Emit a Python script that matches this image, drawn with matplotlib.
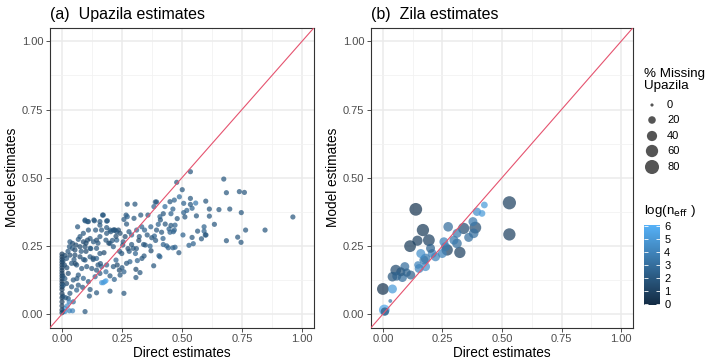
import numpy as np
import matplotlib
matplotlib.use("Agg")
import matplotlib.pyplot as plt
from matplotlib.colors import LinearSegmentedColormap, Normalize

plt.rcParams['font.family'] = ['Liberation Sans', 'DejaVu Sans']

# ---- panel (a): upazila estimates (direct, model, log n_eff) ----
upa_direct = [
    0.962, 0.846, 0.765, 0.746, 0.732, 0.747, 0.739, 0.760, 0.685, 0.674,
    0.699, 0.685, 0.654, 0.635, 0.614, 0.614, 0.599, 0.592, 0.592, 0.597,
    0.581, 0.565, 0.557, 0.535, 0.542, 0.547, 0.529, 0.542, 0.535, 0.535,
    0.507, 0.512, 0.504, 0.501, 0.507, 0.489, 0.478, 0.468, 0.471, 0.462,
    0.487, 0.443, 0.436, 0.422, 0.404, 0.408, 0.382, 0.421, 0.446, 0.454,
    0.464, 0.471, 0.454, 0.462, 0.468, 0.450, 0.429, 0.422, 0.408, 0.410,
    0.401, 0.394, 0.389, 0.383, 0.394, 0.385, 0.374, 0.371, 0.367, 0.347,
    0.342, 0.333, 0.358, 0.344, 0.328, 0.332, 0.322, 0.311, 0.304, 0.300,
    0.272, 0.267, 0.272, 0.258, 0.269, 0.279, 0.290, 0.297, 0.306, 0.314,
    0.308, 0.308, 0.325, 0.283, 0.269, 0.258, 0.242, 0.239, 0.258, 0.218,
    0.214, 0.200, 0.225, 0.249, 0.253, 0.263, 0.242, 0.235, 0.221, 0.214,
    0.203, 0.186, 0.183, 0.200, 0.214, 0.228, 0.165, 0.158, 0.189, 0.172,
    0.133, 0.106, 0.096, 0.065, 0.158, 0.144, 0.131, 0.117, 0.106, 0.089,
    0.068, 0.044, 0.031, 0.075, 0.096, 0.117, 0.144, 0.158, 0.144, 0.117,
    0.096, 0.075, 0.054, 0.033, 0.019, 0.040, 0.061, 0.082, 0.103, 0.124,
    0.144, 0.165, 0.186, 0.183, 0.172, 0.158, 0.138, 0.110, 0.089, 0.068,
    0.047, 0.026, 0.019, 0.040, 0.068, 0.086, 0.117, 0.144, 0.114, 0.061,
    0.033, 0.026, 0.047, 0.044, 0.031, 0.096, 0.012, 0.096, 0.110, 0.135,
    0.169, 0.186, 0.140, 0.158, 0.186, 0.200, 0.217, 0.228, 0.110, 0.089,
    0.075, 0.058, 0.033, 0.043, 0.054, 0.178, 0.183, 0.165, 0.006, 0.012,
    0.022, 0.030, 0.0, 0.0, 0.0, 0.0, 0.0, 0.0, 0.0, 0.0,
    0.0, 0.0, 0.0, 0.0, 0.0, 0.0, 0.0, 0.0, 0.0, 0.0,
    0.0, 0.0, 0.004, 0.004, 0.004, 0.005, 0.010, 0.012, 0.015, 0.012,
    0.020, 0.025, 0.050, 0.055, 0.062, 0.080, 0.090, 0.100, 0.120, 0.130,
    0.150, 0.160, 0.175, 0.195, 0.210, 0.225, 0.240, 0.255, 0.275, 0.290,
    0.310, 0.320, 0.340, 0.355, 0.370, 0.390, 0.415, 0.430, 0.450, 0.480,
    0.520, 0.560, 0.600, 0.200, 0.230, 0.250, 0.280, 0.130, 0.150, 0.100,
]
upa_model = [
    0.356, 0.308, 0.308, 0.263, 0.282, 0.372, 0.449, 0.446, 0.445, 0.495,
    0.385, 0.269, 0.383, 0.329, 0.385, 0.359, 0.414, 0.320, 0.304, 0.290,
    0.276, 0.304, 0.407, 0.402, 0.388, 0.258, 0.252, 0.281, 0.424, 0.522,
    0.372, 0.356, 0.290, 0.456, 0.406, 0.430, 0.483, 0.308, 0.245, 0.243,
    0.225, 0.243, 0.250, 0.255, 0.214, 0.210, 0.177, 0.277, 0.312, 0.325,
    0.302, 0.326, 0.368, 0.385, 0.418, 0.412, 0.394, 0.368, 0.357, 0.345,
    0.329, 0.411, 0.411, 0.394, 0.308, 0.286, 0.280, 0.232, 0.249, 0.253,
    0.213, 0.204, 0.363, 0.308, 0.363, 0.320, 0.284, 0.308, 0.403, 0.351,
    0.403, 0.363, 0.357, 0.347, 0.330, 0.302, 0.290, 0.241, 0.222, 0.196,
    0.164, 0.134, 0.152, 0.192, 0.186, 0.155, 0.143, 0.161, 0.076, 0.127,
    0.174, 0.084, 0.198, 0.222, 0.253, 0.284, 0.296, 0.308, 0.308, 0.308,
    0.302, 0.296, 0.271, 0.259, 0.247, 0.271, 0.308, 0.339, 0.342, 0.363,
    0.345, 0.339, 0.345, 0.320, 0.284, 0.271, 0.265, 0.277, 0.271, 0.265,
    0.274, 0.259, 0.247, 0.247, 0.247, 0.241, 0.241, 0.222, 0.204, 0.210,
    0.198, 0.210, 0.216, 0.216, 0.204, 0.186, 0.180, 0.167, 0.174, 0.167,
    0.161, 0.174, 0.180, 0.155, 0.115, 0.149, 0.137, 0.119, 0.131, 0.143,
    0.125, 0.149, 0.112, 0.100, 0.106, 0.098, 0.090, 0.078, 0.066, 0.088,
    0.076, 0.057, 0.045, 0.012, 0.012, 0.009, 0.009, 0.342, 0.339, 0.342,
    0.363, 0.341, 0.308, 0.326, 0.317, 0.308, 0.308, 0.302, 0.308, 0.296,
    0.284, 0.253, 0.265, 0.241, 0.235, 0.119, 0.122, 0.115, 0.010, 0.020,
    0.030, 0.045, 0.005, 0.015, 0.030, 0.045, 0.060, 0.075, 0.090, 0.100,
    0.110, 0.120, 0.130, 0.140, 0.150, 0.160, 0.170, 0.180, 0.190, 0.200,
    0.210, 0.220, 0.065, 0.140, 0.195, 0.105, 0.180, 0.215, 0.060, 0.130,
    0.170, 0.230, 0.200, 0.185, 0.130, 0.230, 0.200, 0.260, 0.240, 0.205,
    0.260, 0.185, 0.225, 0.260, 0.270, 0.285, 0.230, 0.265, 0.240, 0.255,
    0.240, 0.270, 0.255, 0.290, 0.320, 0.270, 0.300, 0.330, 0.300, 0.350,
    0.380, 0.360, 0.290, 0.140, 0.180, 0.170, 0.230, 0.200, 0.180, 0.230,
]
upa_logneff = [
    2.0, 2.0, 2.0, 2.0, 2.0, 2.0, 2.0, 2.0, 2.0, 2.0,
    2.0, 2.0, 2.0, 2.0, 2.0, 2.0, 2.0, 2.5, 2.5, 2.0,
    2.0, 2.0, 3.5, 2.0, 2.5, 2.5, 2.5, 2.0, 2.0, 2.0,
    2.5, 2.0, 2.5, 2.0, 2.5, 3.0, 2.0, 2.5, 2.5, 2.5,
    2.0, 2.5, 2.5, 2.5, 2.5, 2.5, 2.0, 2.5, 2.5, 2.0,
    2.5, 2.5, 2.5, 2.5, 2.5, 2.0, 3.0, 2.0, 2.5, 2.0,
    2.5, 2.0, 2.0, 2.5, 2.0, 2.5, 2.0, 1.5, 2.5, 2.0,
    2.0, 2.0, 2.0, 2.5, 2.0, 2.5, 2.0, 2.5, 2.0, 2.0,
    2.0, 2.0, 2.5, 2.0, 2.0, 2.0, 2.5, 2.0, 2.5, 2.5,
    1.5, 2.0, 2.0, 2.5, 2.0, 2.5, 2.0, 1.5, 2.0, 2.5,
    2.0, 2.0, 2.5, 2.0, 2.0, 1.5, 1.5, 1.5, 1.5, 1.5,
    2.0, 2.0, 2.0, 2.5, 2.0, 2.5, 2.0, 2.0, 2.0, 2.0,
    2.0, 2.0, 2.5, 2.0, 2.0, 1.5, 2.0, 2.0, 1.5, 1.5,
    2.0, 1.5, 2.0, 1.5, 1.5, 2.0, 2.0, 2.0, 2.5, 2.0,
    2.0, 1.5, 1.5, 1.5, 2.0, 2.0, 2.0, 2.0, 2.0, 2.0,
    2.0, 2.5, 2.5, 3.0, 5.0, 2.0, 2.5, 2.0, 2.5, 2.0,
    2.0, 1.5, 1.5, 2.0, 2.0, 2.0, 2.0, 2.0, 2.0, 2.5,
    2.0, 2.0, 3.0, 4.0, 4.0, 2.0, 4.5, 2.0, 2.0, 2.0,
    2.0, 2.0, 2.0, 2.0, 2.0, 2.0, 2.0, 2.0, 2.0, 2.0,
    2.0, 1.5, 2.0, 2.0, 1.5, 5.0, 5.5, 5.0, 5.5, 5.0,
    4.5, 4.0, 1.0, 1.0, 1.0, 1.0, 1.0, 1.0, 1.0, 1.0,
    1.0, 1.0, 1.0, 1.0, 1.0, 1.0, 1.0, 1.0, 1.0, 1.0,
    1.0, 1.0, 1.5, 1.5, 1.5, 2.0, 1.5, 1.5, 2.0, 2.0,
    1.5, 2.0, 2.0, 1.5, 2.0, 2.0, 2.0, 1.5, 2.0, 1.5,
    2.0, 2.0, 1.5, 1.5, 2.0, 1.5, 2.0, 2.0, 1.5, 2.0,
    2.0, 1.5, 2.0, 2.0, 2.5, 2.0, 2.0, 2.0, 2.5, 2.0,
    2.5, 2.0, 2.0, 2.0, 1.5, 2.0, 2.0, 2.0, 2.0, 1.5,
]

# ---- panel (b): zila estimates (direct, model, % missing upazila, log n_eff) ----
zila_direct = [
    0.531, 0.531, 0.138, 0.168, 0.145, 0.114, 0.193, 0.323, 0.274, 0.270,
    0.339, 0.388, 0.395, 0.416, 0.426, 0.378, 0.360, 0.381, 0.311, 0.298,
    0.311, 0.256, 0.263, 0.249, 0.221, 0.200, 0.207, 0.179, 0.159, 0.147,
    0.179, 0.172, 0.152, 0.117, 0.100, 0.092, 0.075, 0.054, 0.040, 0.058,
    0.082, 0.000, 0.040, 0.031, 0.006, 0.008,
]
zila_model = [
    0.408, 0.292, 0.384, 0.308, 0.269, 0.249, 0.271, 0.226, 0.320, 0.235,
    0.314, 0.317, 0.375, 0.369, 0.400, 0.339, 0.281, 0.296, 0.296, 0.271,
    0.259, 0.265, 0.247, 0.222, 0.210, 0.241, 0.222, 0.204, 0.222, 0.180,
    0.174, 0.198, 0.167, 0.143, 0.152, 0.174, 0.155, 0.161, 0.137, 0.139,
    0.134, 0.092, 0.092, 0.048, 0.015, 0.009,
]
zila_missing = [
    70, 60, 65, 60, 40, 55, 55, 50, 35, 50,
    50, 55, 25, 15, 15, 30, 30, 35, 30, 30,
    35, 30, 30, 30, 30, 30, 30, 35, 30, 20,
    30, 30, 30, 30, 25, 30, 30, 45, 35, 30,
    30, 55, 30, 2, 45, 25,
]
zila_logneff = [
    1.0, 1.0, 0.5, 0.8, 1.0, 0.8, 1.0, 1.0, 3.0, 1.0,
    1.5, 1.5, 4.5, 5.0, 5.0, 3.5, 3.0, 3.0, 3.5, 3.5,
    3.0, 4.0, 3.5, 4.0, 4.0, 2.5, 4.0, 3.5, 4.5, 4.0,
    4.5, 3.5, 4.0, 2.5, 2.5, 3.0, 2.0, 1.5, 2.0, 2.5,
    3.0, 0.5, 5.0, 3.5, 5.5, 2.0,
]

legend_missing = [0, 20, 40, 60, 80]
cbar_ticks = [0, 1, 2, 3, 4, 5, 6]

ggcmap = LinearSegmentedColormap.from_list("gg", ["#132B43", "#56B1F7"])
norm = Normalize(0, 6)
diag_col = "#e5536f"


def size_of(pct):
    # area grows linearly with % missing, diameter in pixels -> points^2
    d_px = np.sqrt(10 + 2.35 * np.asarray(pct, dtype=float))
    return (d_px * 0.72) ** 2


def style_panel(ax):
    ax.set_xlim(-0.05, 1.05)
    ax.set_ylim(-0.05, 1.05)
    ticks = [0, 0.25, 0.5, 0.75, 1.0]
    minor = [0.125, 0.375, 0.625, 0.875]
    ax.set_xticks(ticks)
    ax.set_yticks(ticks)
    ax.set_xticklabels(["%.2f" % t for t in ticks])
    ax.set_yticklabels(["%.2f" % t for t in ticks])
    ax.set_xticks(minor, minor=True)
    ax.set_yticks(minor, minor=True)
    ax.grid(True, which="major", color="#EBEBEB", lw=1.1, zorder=0)
    ax.grid(True, which="minor", color="#F2F2F2", lw=0.6, zorder=0)
    ax.tick_params(which="minor", length=0)
    ax.tick_params(which="major", length=2.8, width=0.6, color="#333333",
                   labelsize=8, labelcolor="#4D4D4D", pad=2)
    for sp in ax.spines.values():
        sp.set_color("#333333")
        sp.set_linewidth(0.8)
    ax.set_axisbelow(True)
    ax.plot([-0.05, 1.05], [-0.05, 1.05], color=diag_col, lw=0.8, zorder=3)
    ax.set_xlabel("Direct estimates", fontsize=9.8, labelpad=1)
    ax.set_ylabel("Model estimates", fontsize=9.8, labelpad=2)


fig = plt.figure(figsize=(7.07, 3.64), dpi=100)
ax1 = fig.add_axes([50 / 707, 36.3 / 364, 264 / 707, 300 / 364])
ax2 = fig.add_axes([371 / 707, 36.3 / 364, 262 / 707, 300 / 364])

style_panel(ax1)
style_panel(ax2)

ax1.scatter(upa_direct, upa_model, c=upa_logneff, cmap=ggcmap, norm=norm,
            s=14, alpha=0.72, linewidths=0, zorder=2)
order = np.argsort(zila_missing)[::-1]
sc = ax2.scatter(np.array(zila_direct)[order], np.array(zila_model)[order],
                 c=np.array(zila_logneff)[order], s=size_of(np.array(zila_missing)[order]),
                 cmap=ggcmap, norm=norm, alpha=0.72, linewidths=0, zorder=2)

fig.text(50 / 707, 1 - 14 / 364, "(a)  Upazila estimates", fontsize=11.5, va="center")
fig.text(371 / 707, 1 - 14 / 364, "(b)  Zila estimates", fontsize=11.5, va="center")

# size legend
fig.text(644 / 707, 1 - 68 / 364, "% Missing\nUpazila", fontsize=9.6, va="top",
         linespacing=1.0)
lax = fig.add_axes([640 / 707, 1 - 177 / 364, 60 / 707, 82 / 364])
lax.set_xlim(0, 60)
lax.set_ylim(177, 95)
lax.axis("off")
key_y = [105, 120, 136, 151, 167]
lax.scatter([12] * 5, key_y, s=size_of(legend_missing), color="#555555", linewidths=0)
for yy, lab in zip(key_y, legend_missing):
    lax.text(27, yy, str(lab), fontsize=8, va="center", color="black")

# colour bar
fig.text(644 / 707, 1 - 211 / 364, r"log(n$_{\mathrm{eff}}$ )", fontsize=9.6, va="center")
cax = fig.add_axes([644 / 707, 1 - 305 / 364, 16 / 707, 80 / 364])
cb = fig.colorbar(plt.cm.ScalarMappable(norm=Normalize(-0.1, 6.1), cmap=LinearSegmentedColormap.from_list(
    "gg2", [ggcmap(norm(-0.1)), ggcmap(1.0)])), cax=cax, ticks=cbar_ticks)
cb.outline.set_visible(False)
cax.yaxis.set_ticks_position("both")
cax.tick_params(direction="in", color="white", length=3, width=0.6, labelsize=8,
                pad=3, labelright=True, labelleft=False)

fig.savefig("out.png", dpi=100)
